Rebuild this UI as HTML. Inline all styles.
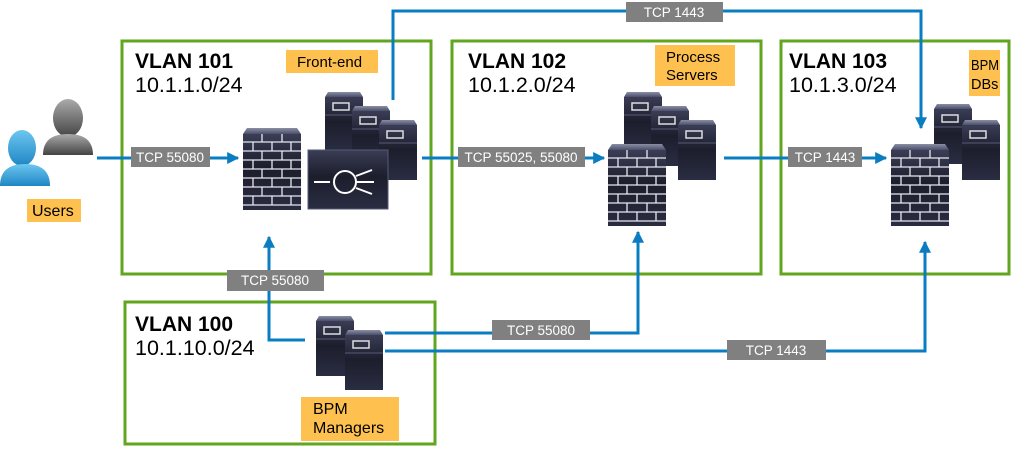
<!DOCTYPE html>
<html><head><meta charset="utf-8"><style>
body{margin:0;background:#fff;width:1012px;height:449px;overflow:hidden}
text{font-family:"Liberation Sans",Arial,sans-serif}
</style></head><body>
<svg width="1012" height="449" viewBox="0 0 1012 449" xmlns="http://www.w3.org/2000/svg">
<defs>
<linearGradient id="dk" x1="0" y1="0" x2="0" y2="1">
<stop offset="0" stop-color="#3a3d55"/><stop offset="0.45" stop-color="#1c1e2c"/><stop offset="1" stop-color="#2a2d42"/></linearGradient>
<linearGradient id="tp" x1="0" y1="0" x2="0" y2="1"><stop offset="0" stop-color="#8a8ea6"/><stop offset="1" stop-color="#4a4e68"/></linearGradient>
<linearGradient id="bl" x1="0" y1="0" x2="0" y2="1"><stop offset="0" stop-color="#6cc6f0"/><stop offset="1" stop-color="#1f86c4"/></linearGradient>
<linearGradient id="gr" x1="0" y1="0" x2="0" y2="1"><stop offset="0" stop-color="#aaa"/><stop offset="1" stop-color="#444"/></linearGradient>
<g id="srv">
<path d="M3 0 H35 L38 5 H0 Z" fill="url(#tp)"/>
<rect x="0" y="5" width="38" height="55" fill="url(#dk)"/>
<rect x="8" y="11" width="16" height="7" fill="none" stroke="#ddd" stroke-width="1.5"/>
<line x1="0" y1="23" x2="38" y2="23" stroke="#555a75" stroke-width="1"/>
</g>
<g id="fw">
<path d="M4 0 H54 L58 6 H0 Z" fill="url(#tp)"/>
<rect x="0" y="6" width="58" height="76" fill="url(#dk)"/>
<g stroke="#e8e8ee" stroke-width="1.3">
<line x1="0" y1="14" x2="58" y2="14"/><line x1="0" y1="23" x2="58" y2="23"/><line x1="0" y1="32" x2="58" y2="32"/><line x1="0" y1="41" x2="58" y2="41"/><line x1="0" y1="50" x2="58" y2="50"/><line x1="0" y1="59" x2="58" y2="59"/><line x1="0" y1="68" x2="58" y2="68"/><line x1="0" y1="77" x2="58" y2="77"/>
<line x1="19" y1="6" x2="19" y2="14"/><line x1="39" y1="6" x2="39" y2="14"/>
<line x1="10" y1="14" x2="10" y2="23"/><line x1="29" y1="14" x2="29" y2="23"/><line x1="48" y1="14" x2="48" y2="23"/>
<line x1="19" y1="23" x2="19" y2="32"/><line x1="39" y1="23" x2="39" y2="32"/>
<line x1="10" y1="32" x2="10" y2="41"/><line x1="29" y1="32" x2="29" y2="41"/><line x1="48" y1="32" x2="48" y2="41"/>
<line x1="19" y1="41" x2="19" y2="50"/><line x1="39" y1="41" x2="39" y2="50"/>
<line x1="10" y1="50" x2="10" y2="59"/><line x1="29" y1="50" x2="29" y2="59"/><line x1="48" y1="50" x2="48" y2="59"/>
<line x1="19" y1="59" x2="19" y2="68"/><line x1="39" y1="59" x2="39" y2="68"/>
<line x1="10" y1="68" x2="10" y2="77"/><line x1="29" y1="68" x2="29" y2="77"/><line x1="48" y1="68" x2="48" y2="77"/>
</g></g>
<marker id="ar" viewBox="0 0 10 10" refX="9" refY="5" markerWidth="4" markerHeight="4" orient="auto"><path d="M0 0 L10 5 L0 10 Z" fill="#0a7cc1"/></marker>
</defs>

<g fill="none" stroke="#62a51f" stroke-width="3">
<rect x="122" y="41" width="309" height="233"/>
<rect x="452" y="41" width="309" height="233"/>
<rect x="781" y="41" width="228" height="233"/>
<rect x="125" y="302" width="310" height="142"/>
</g>

<g fill="none" stroke="#0a7cc1" stroke-width="3">
<line x1="97" y1="158" x2="238" y2="158" marker-end="url(#ar)"/>
<line x1="422" y1="158" x2="604" y2="158" marker-end="url(#ar)"/>
<line x1="724" y1="158" x2="886" y2="158" marker-end="url(#ar)"/>
<polyline points="393,100 393,11 921,11 921,128" marker-end="url(#ar)"/>
<polyline points="305,340 269,340 269,237" marker-end="url(#ar)"/>
<polyline points="385,333 638,333 638,232" marker-end="url(#ar)"/>
<polyline points="385,351 925,351 925,242" marker-end="url(#ar)"/>
</g>

<g>
<ellipse cx="68" cy="118" rx="15" ry="19" fill="url(#gr)"/>
<path d="M43 155 Q43 134 68 134 Q93 134 93 155 Z" fill="url(#gr)"/>
<ellipse cx="22" cy="148" rx="14" ry="18" fill="url(#bl)"/>
<path d="M0 186 Q0 164 25 164 Q50 164 50 186 Z" fill="url(#bl)"/>
</g>

<use href="#fw" x="243" y="128"/>
<use href="#srv" x="325" y="92"/><use href="#srv" x="352" y="106"/><use href="#srv" x="379" y="120"/>
<rect x="308" y="150" width="80" height="59" fill="url(#dk)" stroke="#555a75"/>
<g stroke="#fff" stroke-width="2" fill="none"><line x1="314" y1="182" x2="330" y2="182"/><circle cx="345" cy="182" r="11"/><path d="M356 176 L372 170 M356 182 L374 182 M356 188 L372 194"/></g>
<use href="#srv" x="624" y="92"/><use href="#srv" x="651" y="106"/><use href="#srv" x="678" y="120"/>
<use href="#fw" x="608" y="144"/>
<use href="#srv" x="934" y="104"/><use href="#srv" x="962" y="120"/>
<use href="#fw" x="891" y="144"/>
<use href="#srv" x="316" y="316"/><use href="#srv" x="345" y="330"/>

<g fill="#808080">
<rect x="131" y="147" width="79" height="20"/>
<rect x="458" y="147" width="127" height="20"/>
<rect x="788" y="147" width="74" height="20"/>
<rect x="626" y="2" width="97" height="20"/>
<rect x="227" y="270" width="97" height="21"/>
<rect x="492" y="320" width="98" height="20"/>
<rect x="727" y="340" width="99" height="20"/>
</g>
<g fill="#fff" font-size="13.5" text-anchor="middle">
<text x="170" y="162">TCP 55080</text>
<text x="521" y="162">TCP 55025, 55080</text>
<text x="825" y="162">TCP 1443</text>
<text x="674" y="17">TCP 1443</text>
<text x="275" y="285">TCP 55080</text>
<text x="541" y="335">TCP 55080</text>
<text x="776" y="355">TCP 1443</text>
</g>

<g fill="#fec150">
<rect x="286" y="50" width="92" height="23"/>
<rect x="655" y="45" width="80" height="41"/>
<rect x="969" y="50" width="31" height="46"/>
<rect x="27" y="199" width="54" height="23"/>
<rect x="301" y="397" width="98" height="44"/>
</g>
<g fill="#000" font-size="15">
<text x="297" y="67">Front-end</text>
<text x="666" y="62">Process</text><text x="666" y="80">Servers</text>
<text x="971" y="70" font-size="14.5" textLength="28" lengthAdjust="spacingAndGlyphs">BPM</text><text x="971" y="89" font-size="14.5">DBs</text>
<text x="32" y="216" font-size="16">Users</text>
<text x="313" y="414" font-size="16">BPM</text><text x="313" y="433" font-size="16">Managers</text>
</g>

<g fill="#000">
<text x="135" y="68" font-size="21" font-weight="bold">VLAN 101</text>
<text x="135" y="92" font-size="21.5">10.1.1.0/24</text>
<text x="468" y="68" font-size="21" font-weight="bold">VLAN 102</text>
<text x="468" y="92" font-size="21.5">10.1.2.0/24</text>
<text x="789" y="68" font-size="21" font-weight="bold">VLAN 103</text>
<text x="789" y="92" font-size="21.5">10.1.3.0/24</text>
<text x="135" y="331" font-size="21" font-weight="bold">VLAN 100</text>
<text x="135" y="355" font-size="21.5">10.1.10.0/24</text>
</g>
</svg>
</body></html>
